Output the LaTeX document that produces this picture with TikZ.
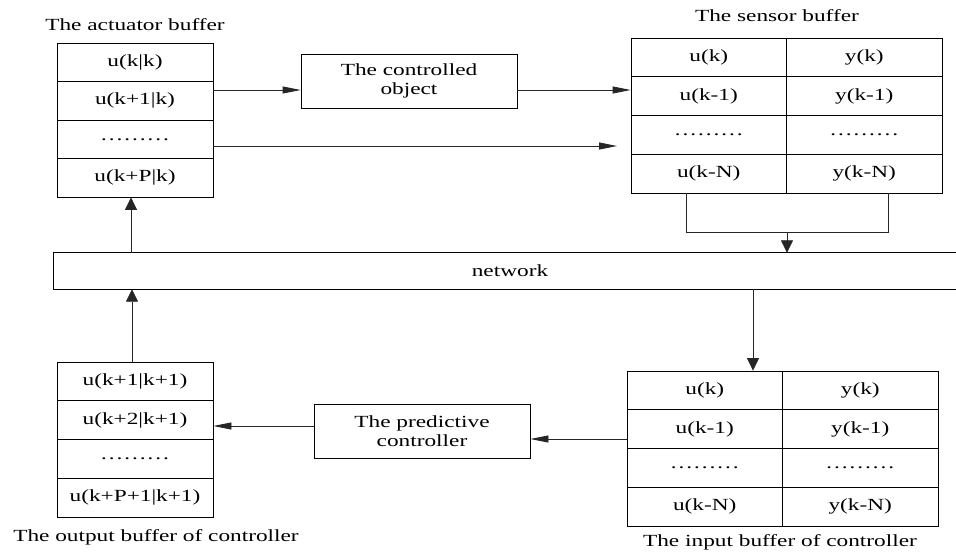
\documentclass[tikz,border=0pt]{standalone}
\usepackage{fontspec}
\setmainfont{Liberation Serif}
\usetikzlibrary{arrows.meta}
\newcommand{\wtext}[1]{\scalebox{1.37}[1]{#1}}
\begin{document}
\begin{tikzpicture}[x=1pt,y=-1pt,
  font=\fontsize{17}{19.5}\selectfont,
  boxline/.style={draw=black, line width=0.8pt},
  acell/.style={boxline, inner sep=0pt, minimum width=156pt, minimum height=38.5pt},
  ocell/.style={boxline, inner sep=0pt, minimum width=156pt, minimum height=38.75pt},
  tcell/.style={boxline, inner sep=0pt, minimum width=155.5pt, minimum height=38.75pt},
  blockbox/.style={boxline, inner sep=0pt, minimum width=216pt, minimum height=54pt, align=center},
  titletext/.style={inner sep=0pt},
  harr/.style={draw=black!85, line width=0.8pt, -{Triangle[length=18pt,width=7pt]}},
  varr/.style={draw=black!85, line width=0.8pt, -{Triangle[length=12.5pt,width=12pt]}},
  plainline/.style={draw=black!85, line width=0.8pt}]
\useasboundingbox (0,0) rectangle (956,555);
\clip (0,0) rectangle (956,555);

% actuator buffer
\node[titletext] (acttitle) at (135,25) {\wtext{The actuator buffer}};
\node[acell] (a1) at (135,62.25) {\wtext{u(k|k)}};
\node[acell] (a2) at (135,100.75) {\wtext{u(k+1|k)}};
\node[acell] (a3) at (135,139.25) {\wtext{………}};
\node[acell] (a4) at (135,177.75) {\wtext{u(k+P|k)}};

% controlled object
\node[blockbox] (obj) at (409,81) {\wtext{The controlled}\\\wtext{object}};

% sensor buffer
\node[titletext] (sentitle) at (777,16) {\wtext{The sensor buffer}};
\node[tcell] (su1) at (708.75,57.375) {\wtext{u(k)}};
\node[tcell] (sy1) at (864.25,57.375) {\wtext{y(k)}};
\node[tcell] (su2) at (708.75,96.125) {\wtext{u(k-1)}};
\node[tcell] (sy2) at (864.25,96.125) {\wtext{y(k-1)}};
\node[tcell] (su3) at (708.75,134.875) {\wtext{………}};
\node[tcell] (sy3) at (864.25,134.875) {\wtext{………}};
\node[tcell] (su4) at (708.75,173.625) {\wtext{u(k-N)}};
\node[tcell] (sy4) at (864.25,173.625) {\wtext{y(k-N)}};

% network
\node[inner sep=0pt, minimum width=912pt, minimum height=36pt] (net) at (510,271) {\wtext{network}};
\draw[boxline] (net.north east) -- (net.north west) -- (net.south west) -- (net.south east);

% output buffer of controller
\node[ocell] (o1) at (135,381.375) {\wtext{u(k+1|k+1)}};
\node[ocell] (o2) at (135,420.125) {\wtext{u(k+2|k+1)}};
\node[ocell] (o3) at (135,458.875) {\wtext{………}};
\node[ocell] (o4) at (135,497.625) {\wtext{u(k+P+1|k+1)}};
\node[titletext] (outtitle) at (156,537) {\wtext{The output buffer of controller}};

% predictive controller
\node[blockbox] (pred) at (422,431) {\wtext{The predictive}\\\wtext{controller}};

% input buffer of controller
\node[tcell] (iu1) at (704.75,390.375) {\wtext{u(k)}};
\node[tcell] (iy1) at (860.25,390.375) {\wtext{y(k)}};
\node[tcell] (iu2) at (704.75,429.125) {\wtext{u(k-1)}};
\node[tcell] (iy2) at (860.25,429.125) {\wtext{y(k-1)}};
\node[tcell] (iu3) at (704.75,467.875) {\wtext{………}};
\node[tcell] (iy3) at (860.25,467.875) {\wtext{………}};
\node[tcell] (iu4) at (704.75,506.625) {\wtext{u(k-N)}};
\node[tcell] (iy4) at (860.25,506.625) {\wtext{y(k-N)}};
\node[titletext] (intitle) at (780,542) {\wtext{The input buffer of controller}};

% connectors
\coordinate (s2end) at (617,146);
\coordinate (brl) at (686,232);
\coordinate (brr) at (888,232);
\coordinate (brm) at (787,232);

\draw[harr] (a2.east |- 0,90) -- (obj.west |- 0,90);
\draw[harr] (a3.east |- s2end) -- (s2end);
\draw[harr] (obj.east |- 0,90) -- (su2.west |- 0,90);

\draw[plainline] (su4.south -| brl) -- (brl) -- (brr) -- (sy4.south -| brr);
\draw[varr] (brm) -- (net.north -| brm);

\draw[varr] (net.north -| 131,0) -- (a4.south -| 131,0);
\draw[varr] (o1.north -| 132,0) -- (net.south -| 132,0);
\draw[varr] (net.south -| 753,0) -- (iu1.north -| 753,0);

\draw[harr] (iu2.west |- 0,439) -- (pred.east |- 0,439);
\draw[harr] (pred.west |- 0,426) -- (o2.east |- 0,426);
\end{tikzpicture}
\end{document}
